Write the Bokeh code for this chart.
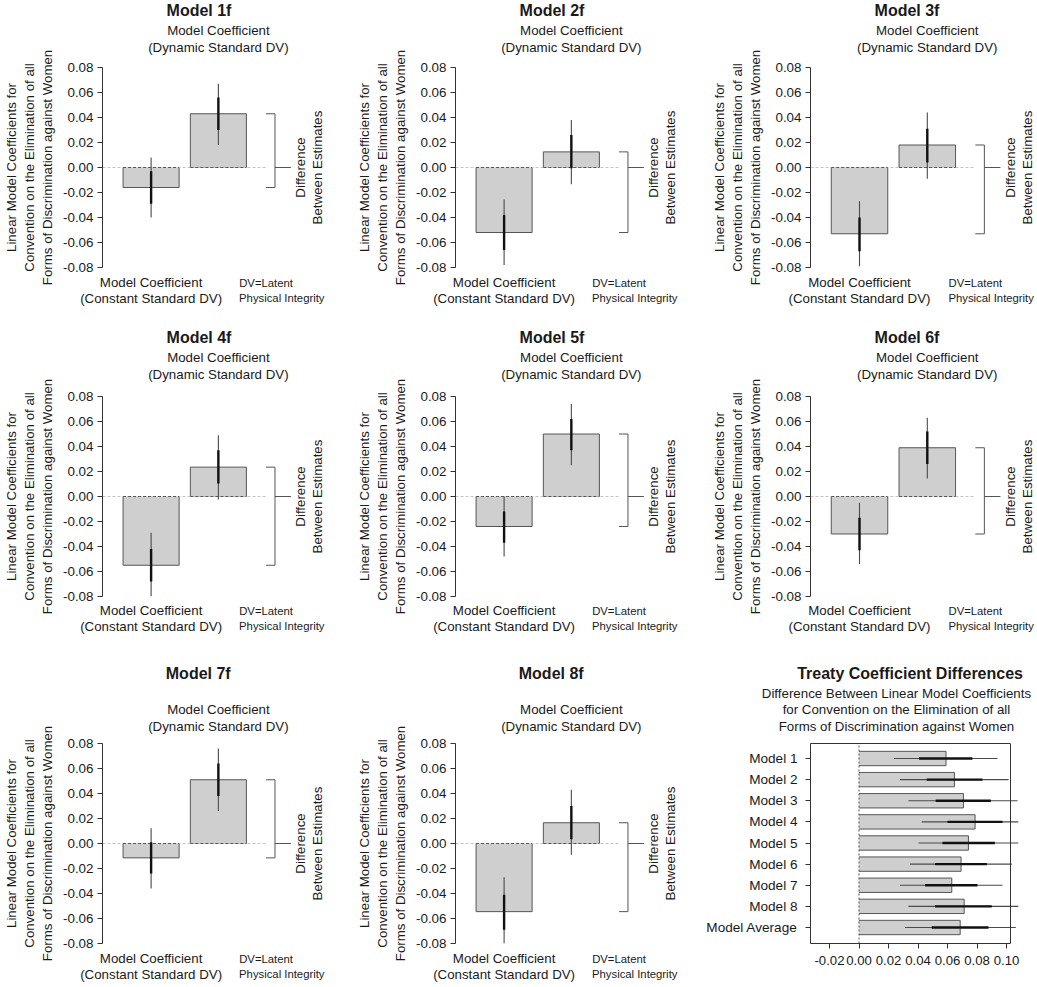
from math import pi
from bokeh.plotting import figure
from bokeh.models import (Range1d, FixedTicker, PrintfTickFormatter, Label, Title,
                          LinearAxis)
from bokeh.layouts import column, row
from bokeh.embed import file_html
from bokeh.resources import INLINE

# ---------------- data ----------------
coef_titles = ["Model 1f", "Model 2f", "Model 3f", "Model 4f",
               "Model 5f", "Model 6f", "Model 7f", "Model 8f"]
# constant standard DV coefficient
const_est = [-0.016, -0.052, -0.053, -0.055, -0.024, -0.030, -0.0115, -0.0545]
const_lo95 = [-0.040, -0.078, -0.079, -0.080, -0.048, -0.054, -0.036, -0.080]
const_hi95 = [0.008, -0.0255, -0.027, -0.029, 0.000, -0.005, 0.0123, -0.027]
const_lo_in = [-0.029, -0.066, -0.067, -0.068, -0.037, -0.043, -0.024, -0.069]
const_hi_in = [-0.003, -0.038, -0.040, -0.042, -0.012, -0.017, 0.001, -0.041]
# dynamic standard DV coefficient
dyn_est = [0.043, 0.0125, 0.018, 0.0235, 0.050, 0.039, 0.051, 0.0166]
dyn_lo95 = [0.018, -0.0134, -0.009, -0.0024, 0.025, 0.0145, 0.026, -0.009]
dyn_hi95 = [0.067, 0.038, 0.044, 0.049, 0.074, 0.063, 0.076, 0.043]
dyn_lo_in = [0.030, -0.0005, 0.004, 0.0104, 0.037, 0.026, 0.038, 0.0035]
dyn_hi_in = [0.056, 0.026, 0.031, 0.037, 0.062, 0.052, 0.064, 0.030]
coef_ticks = [-0.08, -0.06, -0.04, -0.02, 0.0, 0.02, 0.04, 0.06, 0.08]

# treaty coefficient differences
diff_labels = ["Model 1", "Model 2", "Model 3", "Model 4", "Model 5",
               "Model 6", "Model 7", "Model 8", "Model Average"]
diff_est = [0.0590, 0.0647, 0.0708, 0.0787, 0.0742, 0.0692, 0.0629, 0.0713, 0.0686]
diff_lo95 = [0.0238, 0.0278, 0.0335, 0.0425, 0.0403, 0.0346, 0.0278, 0.0335, 0.0312]
diff_hi95 = [0.0939, 0.1014, 0.1075, 0.1080, 0.1080, 0.1036, 0.0973, 0.1080, 0.1063]
diff_lo_in = [0.0407, 0.0459, 0.0520, 0.0600, 0.0566, 0.0516, 0.0448, 0.0516, 0.0493]
diff_hi_in = [0.0769, 0.0837, 0.0894, 0.0973, 0.0921, 0.0867, 0.0803, 0.0900, 0.0878]
diff_ticks = [-0.02, 0.0, 0.02, 0.04, 0.06, 0.08, 0.10]

# ---------------- style / layout ----------------
FONT = "Liberation Sans"
TXT = "#1a1a1a"
AXC = "#333333"
BAR_FILL = "#cfcfcf"
BAR_EDGE = "#555555"
THIN = "#4a4a4a"
THICK = "#111111"

COL_W = [353, 347, 336]
ROW_H = [327, 333, 326]
COL_FL = [100, 100, 110]        # frame left within column
ROW_FT = [67, 69, 83]           # frame top within row (0.08 tick)
FH = 200                        # frame height (-0.08 .. 0.08)
# standoffs (px) of the texts placed around each frame
# title_axis: None -> title drawn as a plot Title, else standoff of a title axis
ROW_TXT = [
    dict(mc_sep=13, title_axis=None, dv=9, pi=0, mcb=-32),
    dict(mc_sep=15, title_axis=None, dv=8, pi=0, mcb=-32),
    dict(mc_sep=10, title_axis=17, dv=9, pi=0, mcb=-32),
]
PX_X = 56.5
BAR_X = [0.7, 1.9]
BAR_W = 1.0
XMIN = 0.7 - 49 / PX_X
BR_X = 2.91
BR_TICK = 2.75
BR_END = 3.195
TITLE_DX = 96.5                 # title centre, px right of the frame's left edge

F_TITLE = 16.0
F_LAB = 13.3
F_TICK = 13.4
F_SMALL = 11.3
LAB_LH = 1.1

AR = {' ': 278, '(': 333, ')': 333, '-': 333, '.': 278, '=': 584,
      'A': 667, 'B': 667, 'C': 722, 'D': 722, 'E': 667, 'F': 611, 'G': 778,
      'H': 722, 'I': 278, 'J': 500, 'K': 667, 'L': 556, 'M': 833, 'N': 722,
      'O': 778, 'P': 667, 'Q': 778, 'R': 722, 'S': 667, 'T': 611, 'U': 722,
      'V': 667, 'W': 944, 'X': 667, 'Y': 667, 'Z': 611,
      'a': 556, 'b': 556, 'c': 500, 'd': 556, 'e': 556, 'f': 278, 'g': 556,
      'h': 556, 'i': 222, 'j': 222, 'k': 500, 'l': 222, 'm': 833, 'n': 556,
      'o': 556, 'p': 556, 'q': 556, 'r': 333, 's': 500, 't': 278, 'u': 556,
      'v': 500, 'w': 722, 'x': 500, 'y': 500, 'z': 500}
ARB = {' ': 278, 'C': 722, 'D': 722, 'M': 833, 'T': 611, 'a': 556, 'c': 556,
       'd': 611, 'e': 556, 'f': 333, 'i': 278, 'l': 278, 'n': 611, 'o': 611,
       'r': 389, 's': 556, 't': 333, 'y': 556}


def text_w(s, size, bold=False):
    tbl = ARB if bold else AR
    return sum(tbl.get(ch, 556) for ch in s) * size / 1000.0


def add_title(p, text, size, bold, offset, standoff=0.0):
    p.add_layout(Title(text=text, align="left", offset=offset,
                       vertical_align="middle", standoff=standoff,
                       text_font=FONT, text_font_size=f"{size}px",
                       text_font_style="bold" if bold else "normal",
                       text_color=TXT), "above")


def text_axis(p, side, ticks, labels, size, standoff, line=False, bounds=None,
              bold=False):
    ticks = [round(t, 4) for t in ticks]
    ax = LinearAxis(ticker=FixedTicker(ticks=ticks),
                    major_label_overrides={t: s for t, s in zip(ticks, labels)})
    ax.major_label_text_font = FONT
    ax.major_label_text_font_size = f"{size}px"
    ax.major_label_text_font_style = "bold" if bold else "normal"
    ax.major_label_text_color = TXT
    ax.major_label_text_line_height = LAB_LH
    ax.major_label_standoff = int(round(standoff))
    ax.major_tick_line_color = None
    ax.minor_tick_line_color = None
    ax.major_tick_out = 0
    ax.major_tick_in = 0
    ax.axis_line_color = AXC if line else None
    if bounds is not None:
        ax.bounds = bounds
    p.add_layout(ax, side)
    return ax


def lab(p, text, x, y, size=F_LAB, align="center", angle=0.0):
    p.add_layout(Label(x=x, y=y, text=text, text_font=FONT,
                       text_font_size=f"{size}px", text_color=TXT,
                       text_align=align, text_baseline="middle", angle=angle))


def coef_panel(i, col, r):
    W, H = COL_W[col], ROW_H[r]
    T = ROW_TXT[r]
    left = COL_FL[col]
    top = ROW_FT[r]
    fw = W - left
    xmax = XMIN + fw / PX_X
    p = figure(width=W, height=H, title=None, x_range=Range1d(XMIN, xmax),
               y_range=Range1d(-0.08, 0.08), output_backend="svg",
               toolbar_location=None, x_axis_location=None,
               min_border_left=left, min_border_right=0,
               min_border_top=top, min_border_bottom=H - top - FH,
               outline_line_color=None, background_fill_color="white",
               border_fill_color="white")
    p.grid.visible = False
    ax = p.yaxis[0]
    ax.ticker = FixedTicker(ticks=coef_ticks)
    ax.formatter = PrintfTickFormatter(format="%.2f")
    ax.major_label_text_font = FONT
    ax.major_label_text_font_size = f"{F_TICK}px"
    ax.major_label_text_color = TXT
    ax.major_label_standoff = 4
    ax.major_tick_out = 5
    ax.major_tick_in = 0
    ax.minor_tick_line_color = None
    ax.axis_line_color = AXC
    ax.major_tick_line_color = AXC
    ax.axis_label = ("Linear Model Coefficients for\n"
                     "Convention on the Elimination of all\n"
                     "Forms of Discrimination against Women")
    ax.axis_label_text_font = FONT
    ax.axis_label_text_font_size = f"{F_LAB}px"
    ax.axis_label_text_font_style = "normal"
    ax.axis_label_text_color = TXT
    ax.axis_label_text_line_height = 1.2
    ax.axis_label_standoff = 5

    est = [const_est[i], dyn_est[i]]
    lo95 = [const_lo95[i], dyn_lo95[i]]
    hi95 = [const_hi95[i], dyn_hi95[i]]
    lo_in = [const_lo_in[i], dyn_lo_in[i]]
    hi_in = [const_hi_in[i], dyn_hi_in[i]]
    hw = BAR_W / 2

    p.vbar(x=BAR_X, top=est, bottom=0, width=BAR_W, fill_color=BAR_FILL,
           line_color=None)
    p.multi_line([[x - hw, x - hw, x + hw, x + hw] for x in BAR_X],
                 [[0, v, v, 0] for v in est], line_color=BAR_EDGE, line_width=1)
    p.segment(x0=XMIN, y0=0, x1=BR_TICK, y1=0, line_color="#c4c4c4",
              line_width=1, line_dash="3 2")
    p.segment(x0=[x - hw for x in BAR_X], y0=0, x1=[x + hw for x in BAR_X],
              y1=0, line_color=BAR_EDGE, line_width=1, line_dash="3 2")
    p.segment(x0=BAR_X, y0=lo95, x1=BAR_X, y1=hi95, line_color=THIN, line_width=1.1)
    p.segment(x0=BAR_X, y0=lo_in, x1=BAR_X, y1=hi_in, line_color=THICK, line_width=2.4)
    p.multi_line([[BR_TICK, BR_X, BR_X, BR_TICK], [BR_X, BR_END]],
                 [[est[1], est[1], est[0], est[0]], [0, 0]],
                 line_color=BAR_EDGE, line_width=1)

    def xd(dx):
        return XMIN + dx / PX_X

    lab(p, "Difference", xd(200), 0, angle=pi / 2)
    lab(p, "Between Estimates", xd(217), 0, angle=pi / 2)

    # texts above the frame: coefficient label (axis) and title
    text_axis(p, "above", [BAR_X[1]], ["Model Coefficient\n(Dynamic Standard DV)"],
              F_LAB, T["mc_sep"])
    if T["title_axis"] is None:
        add_title(p, coef_titles[i], F_TITLE, True,
                  TITLE_DX - text_w(coef_titles[i], F_TITLE, True) / 2)
    else:
        text_axis(p, "above", [xd(TITLE_DX)], [coef_titles[i]], F_TITLE,
                  T["title_axis"], bold=True)

    # texts below the frame
    dv1, dv2 = "DV=Latent", "Physical Integrity"
    text_axis(p, "below", [xd(138 + text_w(dv1, F_SMALL) / 2)], [dv1], F_SMALL, T["dv"])
    text_axis(p, "below", [xd(138 + text_w(dv2, F_SMALL) / 2)], [dv2], F_SMALL, T["pi"])
    text_axis(p, "below", [BAR_X[0]], ["Model Coefficient\n(Constant Standard DV)"],
              F_LAB, T["mcb"])
    return p


def treaty_panel(col, r):
    W, H = COL_W[col], ROW_H[r]
    px_unit = 1475.0
    zero_px = 158.5
    box_l, box_r = 110, 310
    top = ROW_FT[r]
    bot = top + FH
    row_sp = 21.125
    n = len(diff_labels)
    fw = W - box_l
    xlo = (box_l - zero_px) / px_unit
    xbox = (box_r - zero_px) / px_unit
    xhi = xlo + fw / px_unit
    ylo = 1 - (bot - 267) / row_sp
    yhi = 1 + (267 - top) / row_sp
    p = figure(width=W, height=H, title=None, x_range=Range1d(xlo, xhi),
               y_range=Range1d(ylo, yhi), output_backend="svg",
               toolbar_location=None,
               min_border_left=box_l, min_border_right=0,
               min_border_top=top, min_border_bottom=H - bot,
               outline_line_color=None, background_fill_color="white",
               border_fill_color="white")
    p.grid.visible = False
    ypos = list(range(n, 0, -1))

    yax = p.yaxis[0]
    yax.ticker = FixedTicker(ticks=ypos)
    yax.major_label_overrides = {y: t for y, t in zip(ypos, diff_labels)}
    xax = p.xaxis[0]
    xax.ticker = FixedTicker(ticks=diff_ticks)
    xax.formatter = PrintfTickFormatter(format="%.2f")
    xax.bounds = (xlo, xbox)
    for ax in (yax, xax):
        ax.major_label_text_font = FONT
        ax.major_label_text_color = TXT
        ax.major_tick_out = 5
        ax.major_tick_in = 0
        ax.minor_tick_line_color = None
        ax.axis_line_color = AXC
        ax.major_tick_line_color = AXC
    yax.major_label_text_font_size = "13.6px"
    yax.major_label_standoff = 8
    xax.major_label_text_font_size = "13.2px"
    xax.major_label_standoff = 7

    h = 0.68
    p.hbar(y=ypos, left=0, right=diff_est, height=h, fill_color=BAR_FILL,
           line_color=None)
    p.multi_line([[0, v, v, 0] for v in diff_est],
                 [[y - h / 2, y - h / 2, y + h / 2, y + h / 2] for y in ypos],
                 line_color=BAR_EDGE, line_width=1)
    p.segment(x0=0, y0=ylo, x1=0, y1=yhi, line_color="#555555", line_width=1,
              line_dash="2 2")
    p.segment(x0=diff_lo95, y0=ypos, x1=diff_hi95, y1=ypos, line_color=THIN,
              line_width=1.1)
    p.segment(x0=diff_lo_in, y0=ypos, x1=diff_hi_in, y1=ypos, line_color=THICK,
              line_width=2.4)
    # right edge of the box
    p.segment(x0=xbox, y0=ylo, x1=xbox, y1=yhi, line_color=AXC, line_width=1)

    # top edge of the box carries the subtitle, the title sits above it
    sub = ("Difference Between Linear Model Coefficients\n"
           "for Convention on the Elimination of all\n"
           "Forms of Discrimination against Women")
    sub_x = (196 - zero_px) / px_unit
    text_axis(p, "above", [sub_x], [sub], F_LAB, 10, line=True,
              bounds=(xlo, xbox))
    tt = "Treaty Coefficient Differences"
    add_title(p, tt, F_TITLE, True, (210 - box_l) - text_w(tt, F_TITLE, True) / 2,
              standoff=0.0)
    return p


rows = []
k = 0
for r in range(3):
    figs = []
    for c in range(3):
        if k < len(coef_titles):
            figs.append(coef_panel(k, c, r))
        else:
            figs.append(treaty_panel(c, r))
        k += 1
    rows.append(row(*figs))

page = column(*rows)
open("out.html", "w").write(file_html(page, INLINE))
